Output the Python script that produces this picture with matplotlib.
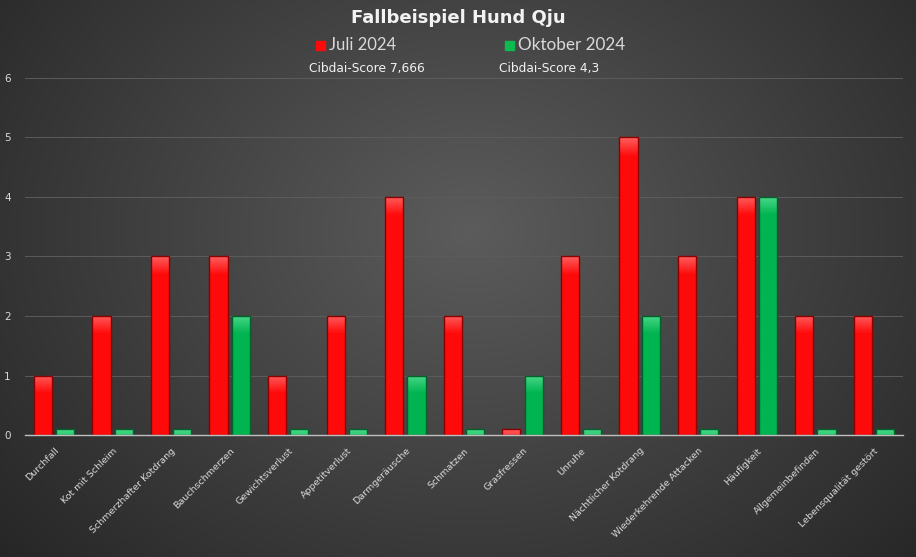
import numpy as np
import matplotlib.pyplot as plt
from matplotlib.patches import Rectangle
from matplotlib.colors import to_rgb

categories = ["Durchfall", "Kot mit Schleim", "Schmerzhafter Kotdrang", "Bauchschmerzen",
              "Gewichtsverlust", "Appetitverlust", "Darmgeräusche", "Schmatzen", "Grasfressen",
              "Unruhe", "Nächtlicher Kotdrang", "Wiederkehrende Attacken", "Häufigkeit",
              "Allgemeinbefinden", "Lebensqualität gestört"]
juli = [1, 2, 3, 3, 1, 2, 4, 2, 0.1, 3, 5, 3, 4, 2, 2]
oktober = [0.1, 0.1, 0.1, 2, 0.1, 0.1, 1, 0.1, 1, 0.1, 2, 0.1, 4, 0.1, 0.1]
series_names = ["Juli 2024", "Oktober 2024"]
scores = ["Cibdai-Score 7,666", "Cibdai-Score 4,3"]
yticks = [0, 1, 2, 3, 4, 5, 6]

plt.rcParams['font.family'] = ['DejaVu Sans']
fig = plt.figure(figsize=(9.16, 5.57), dpi=100)

# radial gradient background
bg = fig.add_axes([0, 0, 1, 1], zorder=-10)
yy, xx = np.mgrid[0:557, 0:916]
r = np.sqrt(((xx - 470) / 650.0) ** 2 + ((yy - 230) / 520.0) ** 2)
r = np.clip(r, 0, 1)
val = 0.36 - 0.22 * r
bg.imshow(np.dstack([val, val, val]), aspect='auto', extent=[0, 1, 0, 1])
bg.axis('off')

ax = fig.add_axes([0.027, 0.219, 0.959, 0.641])
ax.patch.set_alpha(0)
x = np.arange(len(categories))
w = 0.31


def gradient_bars(xs, heights, base, light, edge):
    bars = ax.bar(xs, heights, w, color=base, linewidth=0, zorder=3)
    b = np.array(to_rgb(base))
    l = np.array(to_rgb(light))
    for bar, h in zip(bars, heights):
        # light at top, fading to base colour over ~0.3 units
        t = np.linspace(0, 1, 100)[:, None]
        depth = np.clip((1 - t) * h / 0.3, 0, 1)
        cols = l + (b - l) * depth
        img = np.repeat(cols[:, None, :], 2, axis=1)
        x0 = bar.get_x()
        im = ax.imshow(img, extent=[x0, x0 + w, 0, h], aspect='auto', zorder=3.5,
                       origin='lower')
        im.set_clip_path(bar)
    # dark outline on top of the gradient
    ax.bar(xs, heights, w, fill=False, edgecolor=edge, linewidth=1.0, zorder=4)


gradient_bars(x - 0.19, juli, '#ff0a0a', '#ff5c5c', '#8a0000')
gradient_bars(x + 0.19, oktober, '#00b450', '#48d888', '#03602a')
ax.set_xlim(-0.5, len(categories) - 0.5)
ax.set_ylim(0, 6)
ax.set_yticks(yticks)
ax.set_yticklabels([str(t) for t in yticks], color='#d9d9d9', fontsize=7.5)
ax.set_xticks(x)
ax.set_xticklabels(categories, rotation=45, ha='right', rotation_mode='anchor',
                   color='#d9d9d9', fontsize=6.8)
ax.tick_params(length=0, pad=8)
ax.tick_params(axis='y', pad=10)
for t in yticks[1:]:
    ax.axhline(t, color='#5c5c5c', linewidth=0.7, zorder=1)
for s in ['top', 'right', 'left']:
    ax.spines[s].set_visible(False)
ax.spines['bottom'].set_color('#bfbfbf')
ax.spines['bottom'].set_linewidth(1)
ax.spines['bottom'].set_zorder(5)

fig.text(0.5, 0.968, "Fallbeispiel Hund Qju", ha='center', va='center',
         color='#f2f2f2', fontsize=13, fontweight='bold')
fig.patches.append(Rectangle((316 / 916, 1 - 50 / 557), 9 / 916, 9 / 557,
                             transform=fig.transFigure, color='#ff0a0a', figure=fig))
fig.patches.append(Rectangle((505 / 916, 1 - 50 / 557), 9 / 916, 9 / 557,
                             transform=fig.transFigure, color='#0cba50', figure=fig))
fig.text(329 / 916, 1 - 45 / 557, series_names[0], ha='left', va='center',
         color='#d9d9d9', fontsize=12, family=['Lato', 'DejaVu Sans'])
fig.text(518 / 916, 1 - 45 / 557, series_names[1], ha='left', va='center',
         color='#d9d9d9', fontsize=12.3, family=['Lato', 'DejaVu Sans'])
fig.text(309 / 916, 1 - 68 / 557, scores[0], ha='left', va='center',
         color='#f2f2f2', fontsize=8.8)
fig.text(499 / 916, 1 - 68 / 557, scores[1], ha='left', va='center',
         color='#f2f2f2', fontsize=8.8)

fig.savefig("out.png", dpi=100)
